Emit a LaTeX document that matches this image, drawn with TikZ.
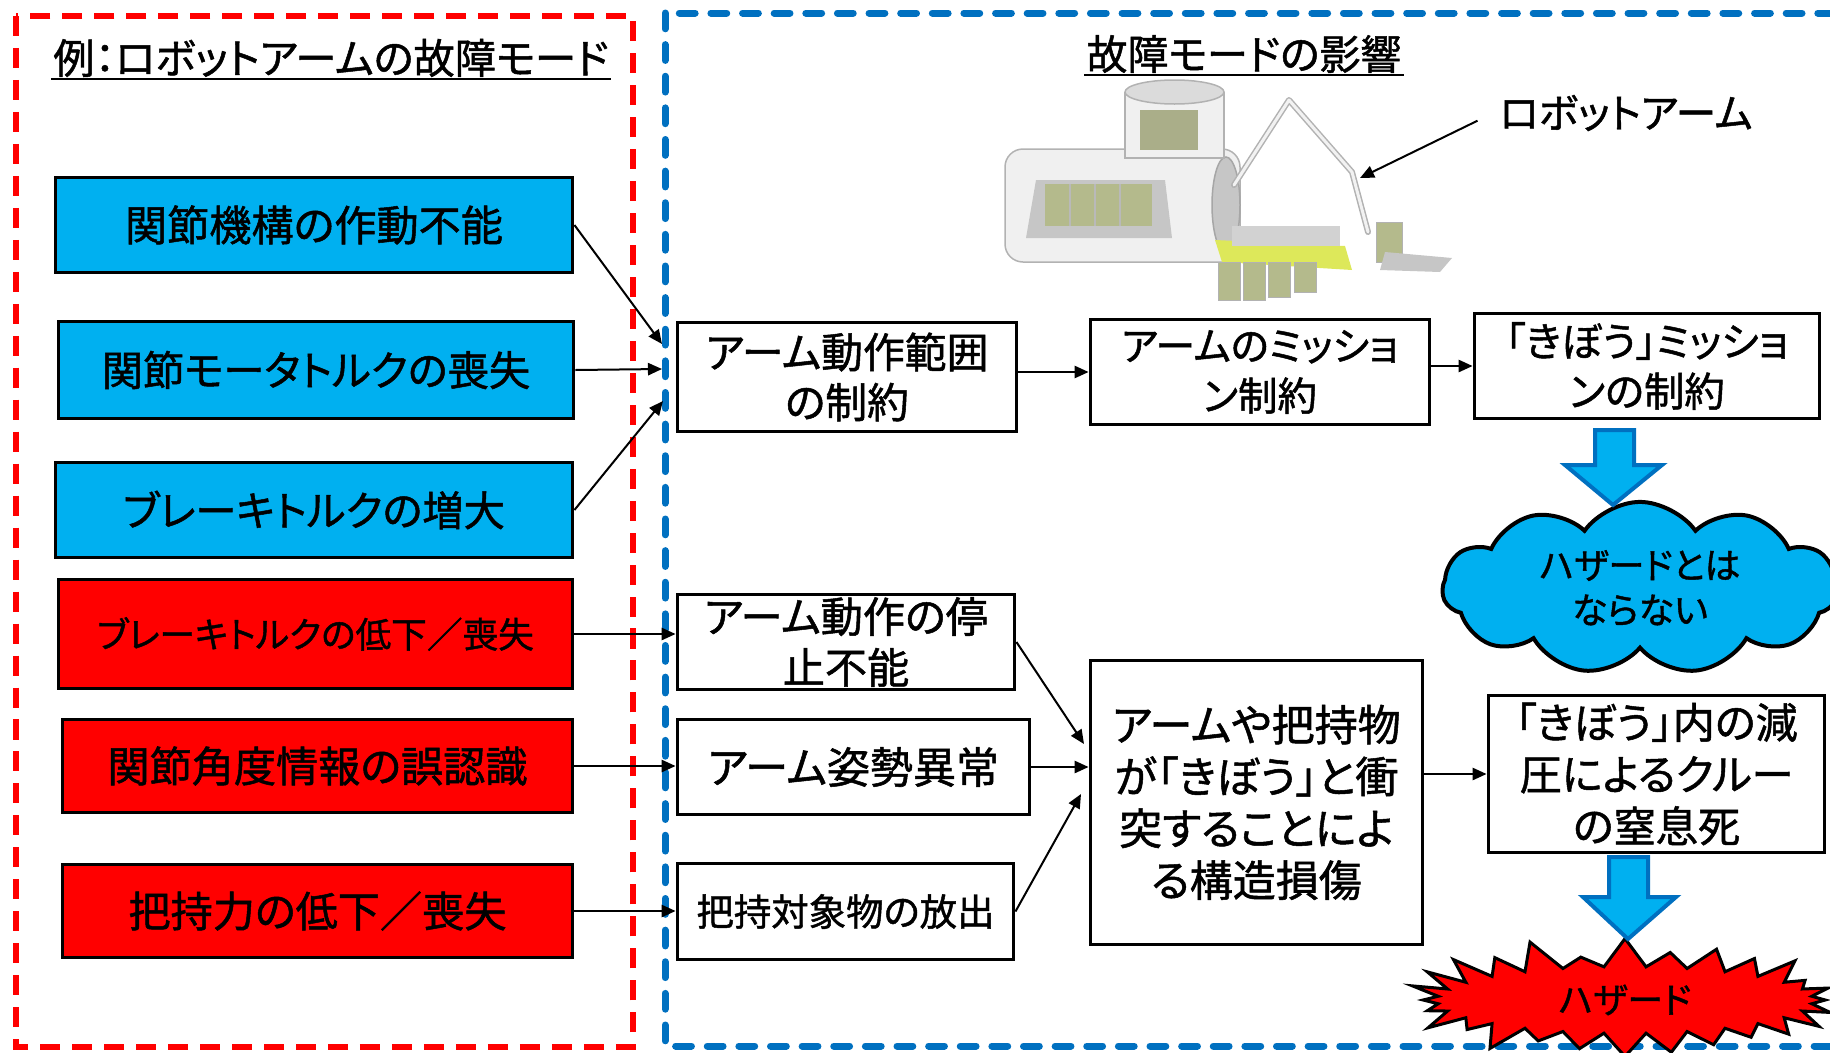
\documentclass[tikz,border=0pt]{standalone}
\usepackage{fontspec}
\setmainfont{Noto Sans CJK JP}[RawFeature=+palt, FakeBold=1.2]
\usetikzlibrary{shapes.symbols,arrows.meta}

\definecolor{modeblue}{HTML}{00B0F0}
\definecolor{modered}{HTML}{FF0000}
\definecolor{frameblue}{HTML}{0070C0}
\definecolor{rackgreen}{HTML}{B4BA8C}
\definecolor{deckyellow}{HTML}{DDE85A}

% one pixel of the 1830 px wide picture
\def\px{0.569pt}

\tikzset{
  modebox/.style={draw=black, line width=3*\px, inner sep=0pt, align=center},
  bluemode/.style={modebox, fill=modeblue},
  redmode/.style={modebox, fill=modered},
  effect/.style={modebox, fill=white},
  link/.style={line width=2*\px, -{Triangle[length=8pt, width=7pt]}},
  bigarrow/.style={fill=modeblue, draw=frameblue, line width=4*\px},
}

\begin{document}
\begin{tikzpicture}[x=0.02cm, y=-0.02cm]

    % Fix the size of the picture (pixels of the reference)
    \useasboundingbox (0,0) rectangle (1830,1052);

    % Dashed frames
    \draw[modered, line width=6*\px, dash pattern=on 11.4pt off 6.8pt] (16,16) rectangle (633,1047);
    \draw[frameblue, line width=7*\px, line cap=round, dash pattern=on 9pt off 9pt] (665,13) rectangle (1845,1046);

    % Titles
    \node[inner sep=1pt, font=\fontsize{23.5}{28}\selectfont] (ltitle) at (331,58) {例：ロボットアームの故障モード};
    \draw[line width=2*\px] (ltitle.south west) -- (ltitle.south east);
    \node[inner sep=1pt, font=\fontsize{23.3}{27}\selectfont] (rtitle) at (1244,54) {故障モードの影響};
    \draw[line width=2*\px] (rtitle.south west) -- (rtitle.south east);

    % Failure modes of the robot arm
    \node[bluemode, minimum width=518*\px, minimum height=96*\px, font=\fontsize{24}{28}\selectfont] (jam) at (314,225) {関節機構の作動不能};
    \node[bluemode, minimum width=516*\px, minimum height=97*\px, font=\fontsize{23.5}{28}\selectfont] (motor) at (316,370) {関節モータトルクの喪失};
    \node[bluemode, minimum width=518*\px, minimum height=95*\px, font=\fontsize{23.5}{28}\selectfont] (brkup) at (314,510) {ブレーキトルクの増大};
    \node[redmode, minimum width=515*\px, minimum height=110*\px, font=\fontsize{20.3}{24}\selectfont] (brkdown) at (315.5,634) {ブレーキトルクの低下／喪失};
    \node[redmode, minimum width=511*\px, minimum height=94*\px, font=\fontsize{24}{28}\selectfont] (angle) at (317.5,766) {関節角度情報の誤認識};
    \node[redmode, minimum width=511*\px, minimum height=94*\px, font=\fontsize{24}{28}\selectfont] (grip) at (317.5,911) {把持力の低下／喪失};

    % Effects of the failure modes
    \node[effect, minimum width=340*\px, minimum height=110*\px, font=\fontsize{23.8}{28.5}\selectfont] (range) at (847,377) {アーム動作範囲\\の制約};
    \node[effect, minimum width=340*\px, minimum height=105*\px, font=\fontsize{22.5}{28.5}\selectfont] (armmis) at (1260,372) {アームのミッショ\\ン制約};
    \node[effect, minimum width=346*\px, minimum height=106*\px, font=\fontsize{23}{28.5}\selectfont] (kibomis) at (1647,366) {「きぼう」ミッショ\\ンの制約};
    \node[effect, minimum width=338*\px, minimum height=96*\px, font=\fontsize{24}{29}\selectfont] (nostop) at (846,642) {アーム動作の停\\止不能};
    \node[effect, minimum width=353*\px, minimum height=96*\px, font=\fontsize{24.5}{28}\selectfont] (pose) at (853.5,767) {アーム姿勢異常};
    \node[effect, minimum width=337*\px, minimum height=97*\px, font=\fontsize{21.3}{26}\selectfont] (release) at (845.5,911.5) {把持対象物の放出};
    \node[effect, minimum width=333*\px, minimum height=285*\px, font=\fontsize{24.5}{29.5}\selectfont] (collide) at (1256.5,802.5) {アームや把持物\\が「きぼう」と衝\\突することによ\\る構造損傷};
    \node[effect, minimum width=337*\px, minimum height=158*\px, font=\fontsize{24}{29.5}\selectfont] (crew) at (1656.5,774) {「きぼう」内の減\\圧によるクルー\\の窒息死};

    % Outcomes: no hazard / hazard
    \node[cloud, cloud puffs=11, cloud puff arc=110, aspect=2.3, draw, line width=4*\px, fill=modeblue, minimum width=225pt, minimum height=98pt, align=center, font=\fontsize{20.5}{25.5}\selectfont] (safe) at (1640,588) {ハザードとは\\ならない};
    \node[starburst, starburst points=28, starburst point height=18pt, random starburst=40, draw, line width=3*\px, fill=modered, minimum width=250pt, minimum height=74pt, font=\fontsize{20.4}{24}\selectfont] (hazard) at (1625,1000) {ハザード};

    % Big block arrows
    \draw[bigarrow] (1595,430) -- (1634,430) -- (1634,465) -- (1662,465) -- (1613,505) -- (1565,465) -- (1595,465) -- cycle;
    \draw[bigarrow] (1609,857) -- (1648,857) -- (1648,897) -- (1676,897) -- (1628,939) -- (1583,897) -- (1609,897) -- cycle;

    % Sketch of the Kibo module with its robot arm
    \draw[gray!60, fill=gray!12, line width=1.5*\px, rounded corners=18*\px] (1005,149) rectangle (1240,262);
    \fill[gray!45] (1036,180) -- (1165,180) -- (1172,238) -- (1026,238) -- cycle;
    \fill[rackgreen] (1045,184) rectangle (1152,226);
    \draw[gray!55, line width=1.5*\px] (1070,184) -- (1070,226) (1095,184) -- (1095,226) (1120,184) -- (1120,226);
    \draw[gray!70, fill=gray!45, line width=1.5*\px] (1226,205) ellipse (14 and 48);
    \draw[gray!60, fill=gray!12, line width=1.5*\px] (1125,92) -- (1125,158) -- (1224,158) -- (1224,92);
    \draw[gray!60, fill=gray!28, line width=1.5*\px] (1174.5,92) ellipse (49.5 and 12);
    \fill[rackgreen!80!gray] (1140,110) rectangle (1198,150);
    \draw[gray!60, line width=6*\px, line cap=round, line join=round] (1234,185) -- (1289,100) -- (1352,172) -- (1368,232);
    \draw[gray!10, line width=3*\px, line cap=round, line join=round] (1234,185) -- (1289,100) -- (1352,172) -- (1368,232);
    \fill[deckyellow] (1215,240) -- (1345,246) -- (1352,270) -- (1222,262) -- cycle;
    \fill[gray!35] (1232,226) rectangle (1340,246);
    \draw[gray!60, fill=rackgreen] (1218,262) rectangle (1240,300);
    \draw[gray!60, fill=rackgreen] (1243,262) rectangle (1265,300);
    \draw[gray!60, fill=rackgreen] (1268,262) rectangle (1290,297);
    \draw[gray!60, fill=rackgreen] (1294,262) rectangle (1316,292);
    \draw[gray!60, fill=rackgreen] (1376,222) rectangle (1402,262);
    \fill[gray!45] (1385,252) -- (1452,258) -- (1440,272) -- (1380,270) -- cycle;

    % Label of the robot arm
    \node[font=\fontsize{23}{27}\selectfont] (armlbl) at (1626,113) {ロボットアーム};
    \coordinate (armtip) at (1360,178);
    \draw[link, shorten <=10pt] (armlbl.west) -- (armtip);

    % Connectors from the failure modes to their effects
    \coordinate (m1) at (662,344);
    \coordinate (m2) at (662,369);
    \coordinate (m3) at (663,401);
    \draw[link] (jam.east) -- (m1);
    \draw[link] (motor.east) -- (m2);
    \draw[link] (brkup.east) -- (m3);
    \draw[link] (brkdown.east) -- (brkdown.east -| nostop.west);
    \draw[link] (angle.east) -- (angle.east -| pose.west);
    \draw[link] (grip.east) -- (grip.east -| release.west);

    % Connectors between the effects
    \coordinate (g1) at (1084,744);
    \coordinate (g3) at (1081,794);
    \draw[link] (range.east |- armmis.west) -- (armmis.west);
    \draw[link] (armmis.east |- kibomis.west) -- (kibomis.west);
    \draw[link] (nostop.east) -- (g1);
    \draw[link] (pose.east) -- (pose.east -| collide.west);
    \draw[link] (release.east) -- (g3);
    \draw[link] (collide.east |- crew.west) -- (crew.west);

\end{tikzpicture}
\end{document}
